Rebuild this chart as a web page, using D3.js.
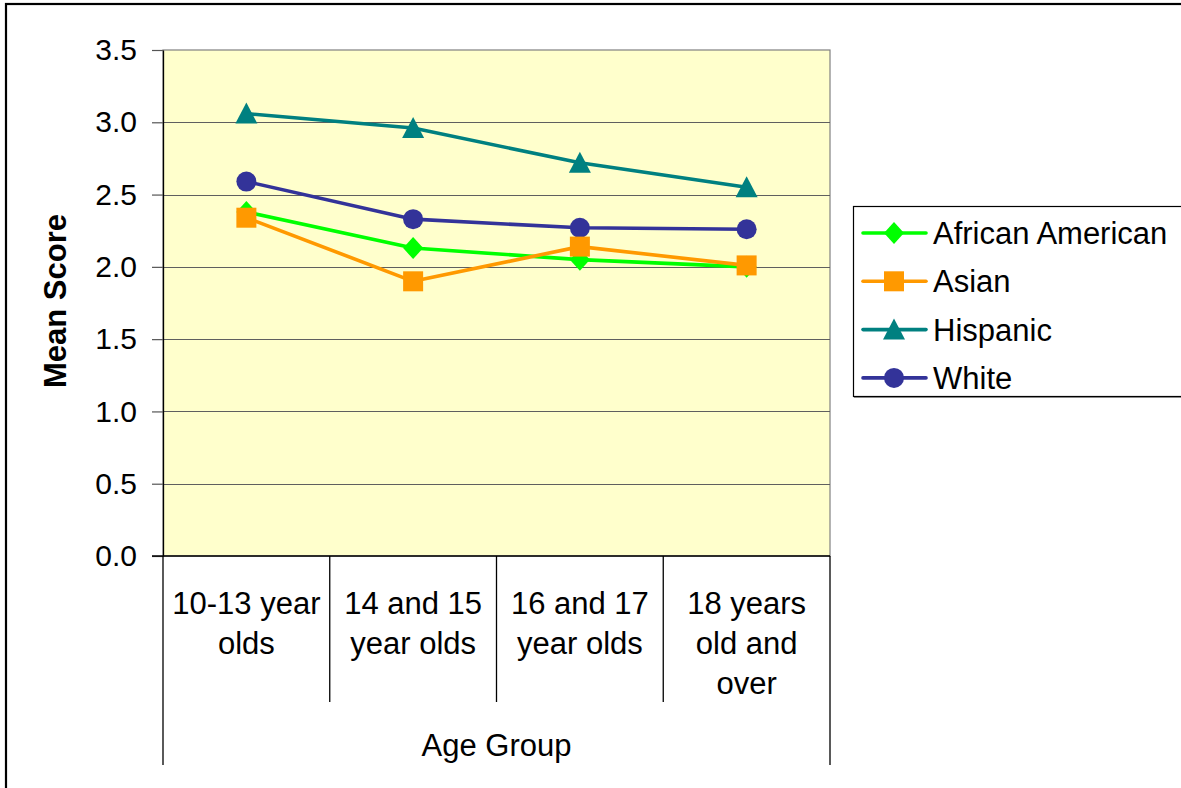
<!DOCTYPE html>
<html>
<head>
<meta charset="utf-8">
<script src="https://cdn.jsdelivr.net/npm/d3@7"></script>
<style>
  html, body { margin: 0; padding: 0; background: #fff; }
  svg { display: block; font-family: "Liberation Sans", Arial, sans-serif; }
</style>
</head>
<body>
<svg id="chart" width="1181" height="788"></svg>
<script>
// Age groups (each label wrapped over its lines)
const categories = [
  ["10-13 year", "olds"],
  ["14 and 15", "year olds"],
  ["16 and 17", "year olds"],
  ["18 years", "old and", "over"]
];

// Mean scores per group
const seriesNames = ["African American", "Asian", "Hispanic", "White"];
const africanAmerican = [2.38, 2.13, 2.05, 2.00];
const asian           = [2.34, 1.90, 2.14, 2.01];
const hispanic        = [3.06, 2.96, 2.72, 2.55];
const white           = [2.59, 2.33, 2.27, 2.26];

const yTicks = [0, 0.5, 1.0, 1.5, 2.0, 2.5, 3.0, 3.5];

const series = [
  { name: seriesNames[0], values: africanAmerican, color: "#00FF00", symbol: "diamond" },
  { name: seriesNames[1], values: asian,           color: "#FF9900", symbol: "square" },
  { name: seriesNames[2], values: hispanic,        color: "#008080", symbol: "triangle" },
  { name: seriesNames[3], values: white,           color: "#333399", symbol: "circle" }
];
// paint order of the marks (later ones on top)
const paintOrder = [3, 2, 0, 1];

const svg = d3.select("#chart");
const plot = { left: 163, right: 830, top: 50, bottom: 556 };

const x = d3.scaleBand()
  .domain(d3.range(categories.length))
  .range([plot.left, plot.right])
  .paddingInner(0).paddingOuter(0);

const y = d3.scaleLinear()
  .domain([0, 3.5])
  .range([plot.bottom, plot.top]);

// outer chart frame
svg.append("rect")
  .attr("x", 6).attr("y", 4)
  .attr("width", 1200).attr("height", 800)
  .attr("fill", "#fff")
  .attr("stroke", "#000").attr("stroke-width", 2.2);

// plot background
svg.append("rect")
  .attr("x", plot.left).attr("y", plot.top)
  .attr("width", plot.right - plot.left)
  .attr("height", plot.bottom - plot.top)
  .attr("fill", "#FFFFCC")
  .attr("stroke", "#808080").attr("stroke-width", 1.2);

// horizontal gridlines
svg.append("g")
  .selectAll("line")
  .data(yTicks.filter(t => t > 0 && t < 3.5))
  .join("line")
  .attr("x1", plot.left).attr("x2", plot.right)
  .attr("y1", d => Math.round(y(d)) + 0.5)
  .attr("y2", d => Math.round(y(d)) + 0.5)
  .attr("stroke", "#5f5f5f").attr("stroke-width", 1.2);

// value axis
const yAxis = svg.append("g")
  .attr("transform", `translate(${plot.left},0)`)
  .call(d3.axisLeft(y)
    .tickValues(yTicks)
    .tickFormat(d3.format(".1f"))
    .tickSize(11)
    .tickSizeOuter(0)
    .tickPadding(15));
yAxis.select(".domain").attr("stroke", "#000").attr("stroke-width", 1.3);
yAxis.selectAll(".tick line").attr("stroke", "#555").attr("stroke-width", 1.2);
yAxis.selectAll(".tick text")
  .attr("font-size", 30)
  .attr("font-family", "Liberation Sans, Arial, sans-serif")
  .attr("fill", "#000");

// category axis baseline
svg.append("line")
  .attr("x1", plot.left - 11).attr("x2", plot.right)
  .attr("y1", plot.bottom).attr("y2", plot.bottom)
  .attr("stroke", "#000").attr("stroke-width", 1.3);

// category separators (outer ones reach past the axis title)
const bounds = d3.range(categories.length + 1);
svg.append("g")
  .selectAll("line")
  .data(bounds)
  .join("line")
  .attr("x1", i => i < categories.length ? x(i) : x(i - 1) + x.bandwidth())
  .attr("x2", i => i < categories.length ? x(i) : x(i - 1) + x.bandwidth())
  .attr("y1", plot.bottom)
  .attr("y2", i => (i === 0 || i === categories.length) ? 765 : 702)
  .attr("stroke", "#000").attr("stroke-width", 1.3);

// category labels
const catLabels = svg.append("g")
  .selectAll("text")
  .data(categories)
  .join("text")
  .attr("text-anchor", "middle")
  .attr("font-size", 31)
  .attr("fill", "#000");
catLabels.selectAll("tspan")
  .data((d, i) => d.map((line, j) => ({ line, j, i })))
  .join("tspan")
  .attr("x", d => x(d.i) + x.bandwidth() / 2)
  .attr("y", d => 614 + d.j * 40)
  .text(d => d.line);

// axis titles
svg.append("text")
  .attr("x", (plot.left + plot.right) / 2)
  .attr("y", 756)
  .attr("text-anchor", "middle")
  .attr("font-size", 31)
  .text("Age Group");

svg.append("text")
  .attr("transform", "translate(66,301) rotate(-90)")
  .attr("text-anchor", "middle")
  .attr("font-size", 31)
  .attr("font-weight", "bold")
  .text("Mean Score");

// marker shapes
function drawMarker(g, symbol, color) {
  if (symbol === "circle") {
    g.append("circle").attr("r", 10).attr("fill", color);
  } else if (symbol === "square") {
    g.append("rect").attr("x", -10).attr("y", -10).attr("width", 20).attr("height", 20).attr("fill", color);
  } else if (symbol === "triangle") {
    g.append("path").attr("d", "M0,-11 L11,10 L-11,10 Z").attr("fill", color);
  } else if (symbol === "diamond") {
    g.append("path").attr("d", "M0,-11 L10,0 L0,11 L-10,0 Z").attr("fill", color);
  }
}

const line = d3.line()
  .x((d, i) => x(i) + x.bandwidth() / 2)
  .y(d => y(d));

const lineLayer = svg.append("g");
const markerLayer = svg.append("g");

paintOrder.forEach(si => {
  const s = series[si];
  lineLayer.append("path")
    .attr("d", line(s.values))
    .attr("fill", "none")
    .attr("stroke", s.color)
    .attr("stroke-width", 3.6)
    .attr("stroke-linejoin", "round");
});
paintOrder.forEach(si => {
  const s = series[si];
  s.values.forEach((v, i) => {
    const g = markerLayer.append("g")
      .attr("transform", `translate(${x(i) + x.bandwidth() / 2},${y(v)})`);
    drawMarker(g, s.symbol, s.color);
  });
});

// legend
const legend = svg.append("g");
legend.append("rect")
  .attr("x", 853.5).attr("y", 206.5)
  .attr("width", 400).attr("height", 190)
  .attr("fill", "#fff")
  .attr("stroke", "#000").attr("stroke-width", 1.2);
legend.append("line")
  .attr("x1", 854).attr("x2", 1181)
  .attr("y1", 397.5).attr("y2", 397.5)
  .attr("stroke", "#888").attr("stroke-width", 1.2);

series.forEach((s, i) => {
  const cy = 233 + i * 48.3;
  const row = legend.append("g");
  row.append("line")
    .attr("x1", 863).attr("x2", 926)
    .attr("y1", cy).attr("y2", cy)
    .attr("stroke", s.color).attr("stroke-width", 3.6)
    .attr("stroke-linecap", "round");
  const m = row.append("g").attr("transform", `translate(894,${cy})`);
  drawMarker(m, s.symbol, s.color);
  row.append("text")
    .attr("x", 933).attr("y", cy + 11)
    .attr("font-size", 31)
    .text(s.name);
});
</script>
</body>
</html>
